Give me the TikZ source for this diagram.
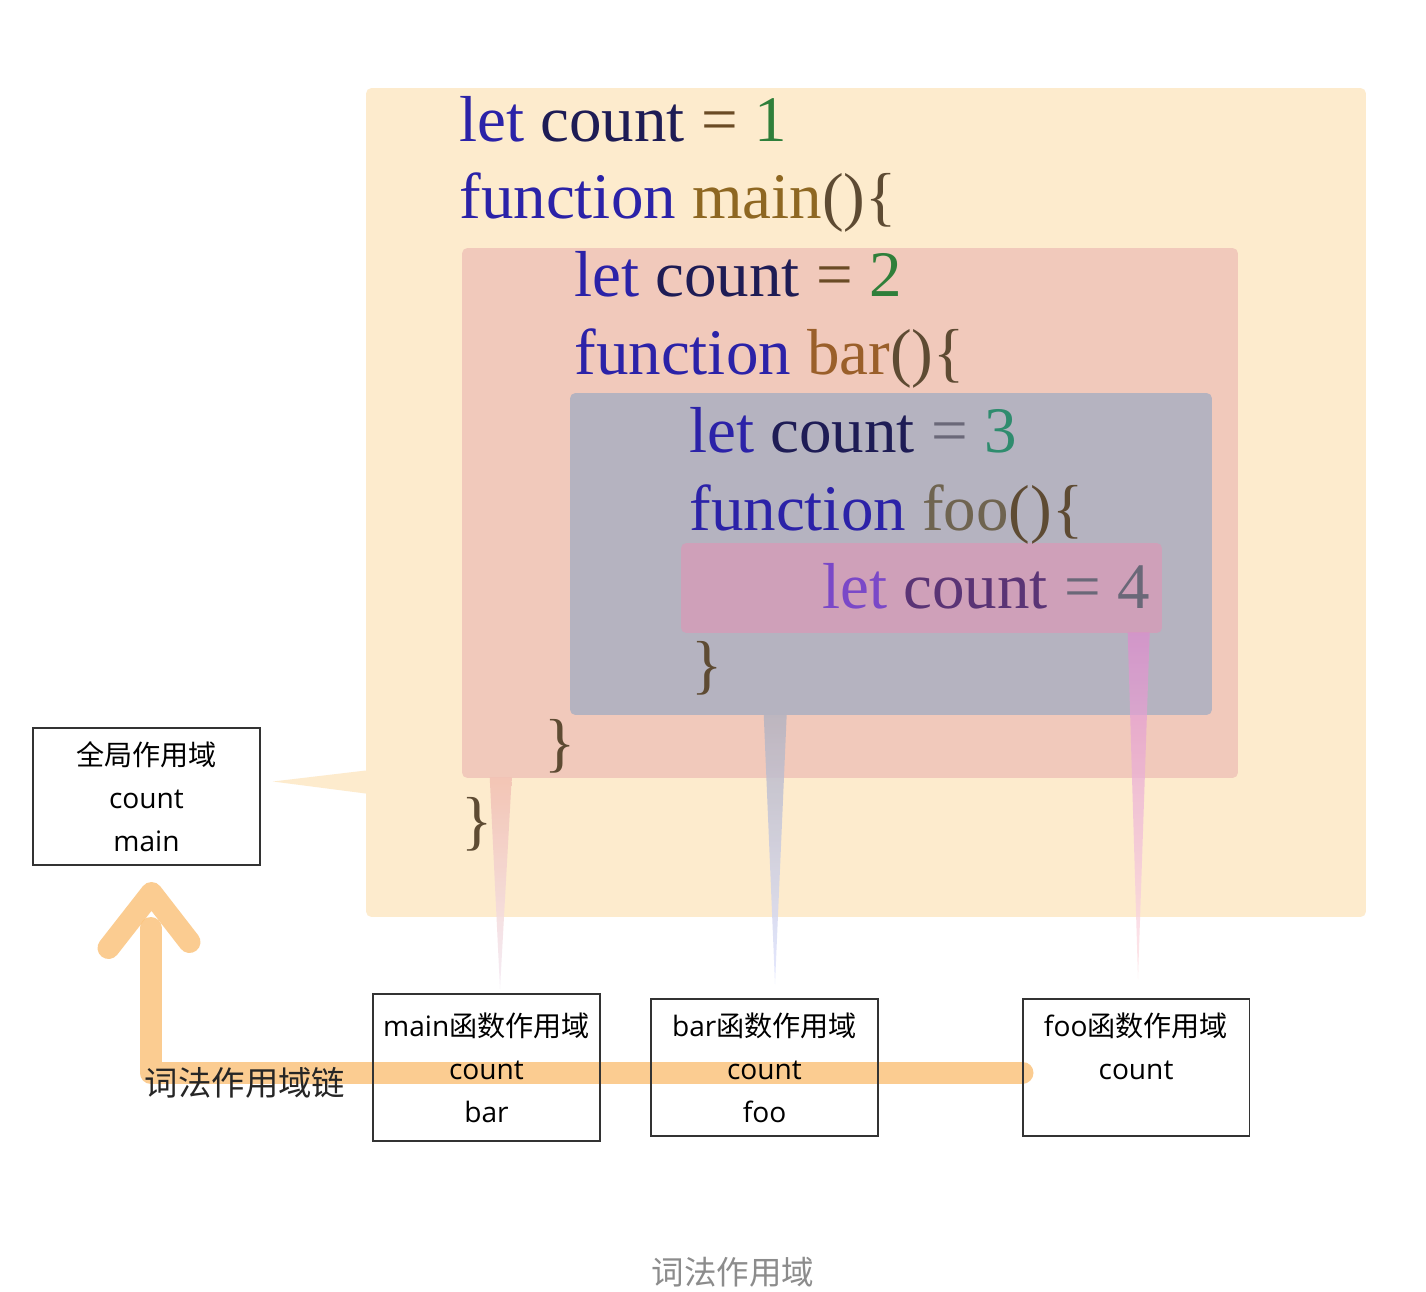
\documentclass[tikz,border=0pt]{standalone}
\usepackage{fontspec}
\setmainfont{Liberation Serif}
\newfontfamily\codefont{Liberation Serif}
\newfontfamily\boxfont{Open Sans}
\newfontfamily\cjk{Noto Sans CJK SC}
\usepackage{tikz}
\usetikzlibrary{calc}
\definecolor{globalfill}{RGB}{253,235,205}
\definecolor{mainfill}{RGB}{241,201,187}
\definecolor{barfill}{RGB}{181,179,192}
\definecolor{foofill}{RGB}{207,160,185}
\definecolor{kwblue}{RGB}{43,34,168}
\definecolor{kwpurple}{RGB}{122,72,200}
\definecolor{varnavy}{RGB}{30,28,85}
\definecolor{varplum}{RGB}{90,52,117}
\definecolor{opbrown}{RGB}{106,75,37}
\definecolor{numgreen}{RGB}{47,127,58}
\definecolor{numteal}{RGB}{47,140,110}
\definecolor{numgray}{RGB}{106,104,120}
\definecolor{fnmain}{RGB}{142,103,34}
\definecolor{fnbar}{RGB}{154,95,42}
\definecolor{fnfoo}{RGB}{111,100,80}
\definecolor{punct}{RGB}{94,75,51}
\definecolor{chainorange}{RGB}{251,196,126}
\definecolor{boxline}{RGB}{51,51,51}
\definecolor{captiongray}{RGB}{140,140,140}
\tikzset{
  scopebox/.style={rectangle, rounded corners=3pt, draw=none, inner sep=0pt},
  codeline/.style={font=\codefont\fontsize{37}{44}\selectfont, inner sep=0pt, anchor=base west},
  scopecard/.style={rectangle, draw=boxline, line width=1.1pt, align=center,
                    minimum width=4.54cm, minimum height=2.74cm,
                    font=\boxfont\fontsize{16}{24.4}\selectfont},
  scopechain/.style={line width=0.44cm, draw=chainorange, line cap=round,
                     line join=round, draw opacity=0.85},
  chainlabel/.style={font=\cjk\fontsize{19}{22}\selectfont, text=black!85},
}
\begin{document}
\begin{tikzpicture}[x=0.02cm, y=-0.02cm]
\useasboundingbox[fill=white] (0,0) rectangle (1426,1291);

% nested scopes
\node[scopebox, fill=globalfill, minimum width=20cm, minimum height=16.58cm] (globalscope) at (866,502.5) {};
\node[scopebox, fill=mainfill, minimum width=15.52cm, minimum height=10.6cm] (mainscope) at (850,513) {};
\node[scopebox, fill=barfill, minimum width=12.84cm, minimum height=6.44cm] (barscope) at (891,554) {};
\node[scopebox, fill=foofill, minimum width=9.62cm, minimum height=1.8cm] (fooscope) at (921.5,588) {};

% scope cards (positions first, chain goes underneath)
\coordinate (globalpos) at (146.5,796.5);
\coordinate (mainpos) at (486.5,1067.5);
\coordinate (barpos) at (764.5,1067.5);
\coordinate (foopos) at (1136,1067.5);

% scope chain
\coordinate (chainend) at ($(foopos)+(-113.5,5)$);
\coordinate (chainfoot) at ($(globalpos)+(4,131.5)$);
\draw[scopechain] (chainend) -- (chainend -| chainfoot) -- (chainfoot);
\draw[scopechain] ($(globalpos)+(-38,151.5)$) -- ($(globalpos)+(5,96.5)$) -- ($(globalpos)+(43,145.5)$);

\node[scopecard] (globalbox) at (globalpos) {{\cjk 全局作用域}\\count\\main};
\node[scopecard, minimum height=2.94cm] (mainbox) at (mainpos) {main{\cjk 函数作用域}\\count\\bar};
\node[scopecard] (barbox) at (barpos) {bar{\cjk 函数作用域}\\count\\foo};
\node[scopecard] (foobox) at (foopos) {foo{\cjk 函数作用域}\\count\\\phantom{foo}};
\node[chainlabel] (chainname) at (245,1083) {词法作用域链};

% callout wedges
\coordinate (globaltip) at ($(globalbox.east)+(12,-15)$);
\fill[globalfill] (globaltip) -- ($(globalscope.west |- globaltip)+(0,-11)$)
  -- ($(globalscope.west |- globaltip)+(0,12)$) -- cycle;
\shade[top color=mainfill!95!red, bottom color=violet!8, fill opacity=0.85]
  ($(mainscope.south west)+(28,-1)$) -- ($(mainscope.south west)+(50,-1)$)
  -- ($(mainbox.north)+(13.5,-4)$) -- cycle;
\shade[top color=barfill, bottom color=cyan!15!blue!12, fill opacity=0.85]
  ($(barscope.south west)+(194,-1)$) -- ($(barscope.south west)+(217,-1)$)
  -- ($(barbox.north)+(10.5,-14)$) -- cycle;
\shade[top color=foofill!80!magenta!90, bottom color=pink!45, fill opacity=0.75]
  ($(fooscope.south west)+(447,-1)$) -- ($(fooscope.south west)+(469,-1)$)
  -- ($(foobox.north)+(2,-19)$) -- cycle;

% code
\node[codeline] (line1) at (459,141) {\textcolor{kwblue}{let} \textcolor{varnavy}{count} \textcolor{opbrown}{=} \textcolor{numgreen}{1}};
\node[codeline] (line2) at (459,218) {\textcolor{kwblue}{function} \textcolor{fnmain}{main}\textcolor{punct}{()\{}};
\node[codeline] (line3) at (574,296) {\textcolor{kwblue}{let} \textcolor{varnavy}{count} \textcolor{opbrown}{=} \textcolor{numgreen}{2}};
\node[codeline] (line4) at (574,374) {\textcolor{kwblue}{function} \textcolor{fnbar}{bar}\textcolor{punct}{()\{}};
\node[codeline] (line5) at (689,452) {\textcolor{kwblue}{let} \textcolor{varnavy}{count} \textcolor{numgray}{=} \textcolor{numteal}{3}};
\node[codeline] (line6) at (689,530) {\textcolor{kwblue}{function} \textcolor{fnfoo}{foo}\textcolor{punct}{()\{}};
\node[codeline] (line7) at (822,608) {\textcolor{kwpurple}{let} \textcolor{varplum}{count} \textcolor{numgray}{=} \textcolor{numgray}{4}};
\node[codeline] (line8) at (691,686) {\textcolor{punct}{\}}};
\node[codeline] (line9) at (544,764) {\textcolor{punct}{\}}};
\node[codeline] (line10) at (461,842) {\textcolor{punct}{\}}};

% caption
\node[font=\cjk\fontsize{18.5}{22}\selectfont, text=captiongray] (caption) at (733,1272) {词法作用域};
\end{tikzpicture}
\end{document}
